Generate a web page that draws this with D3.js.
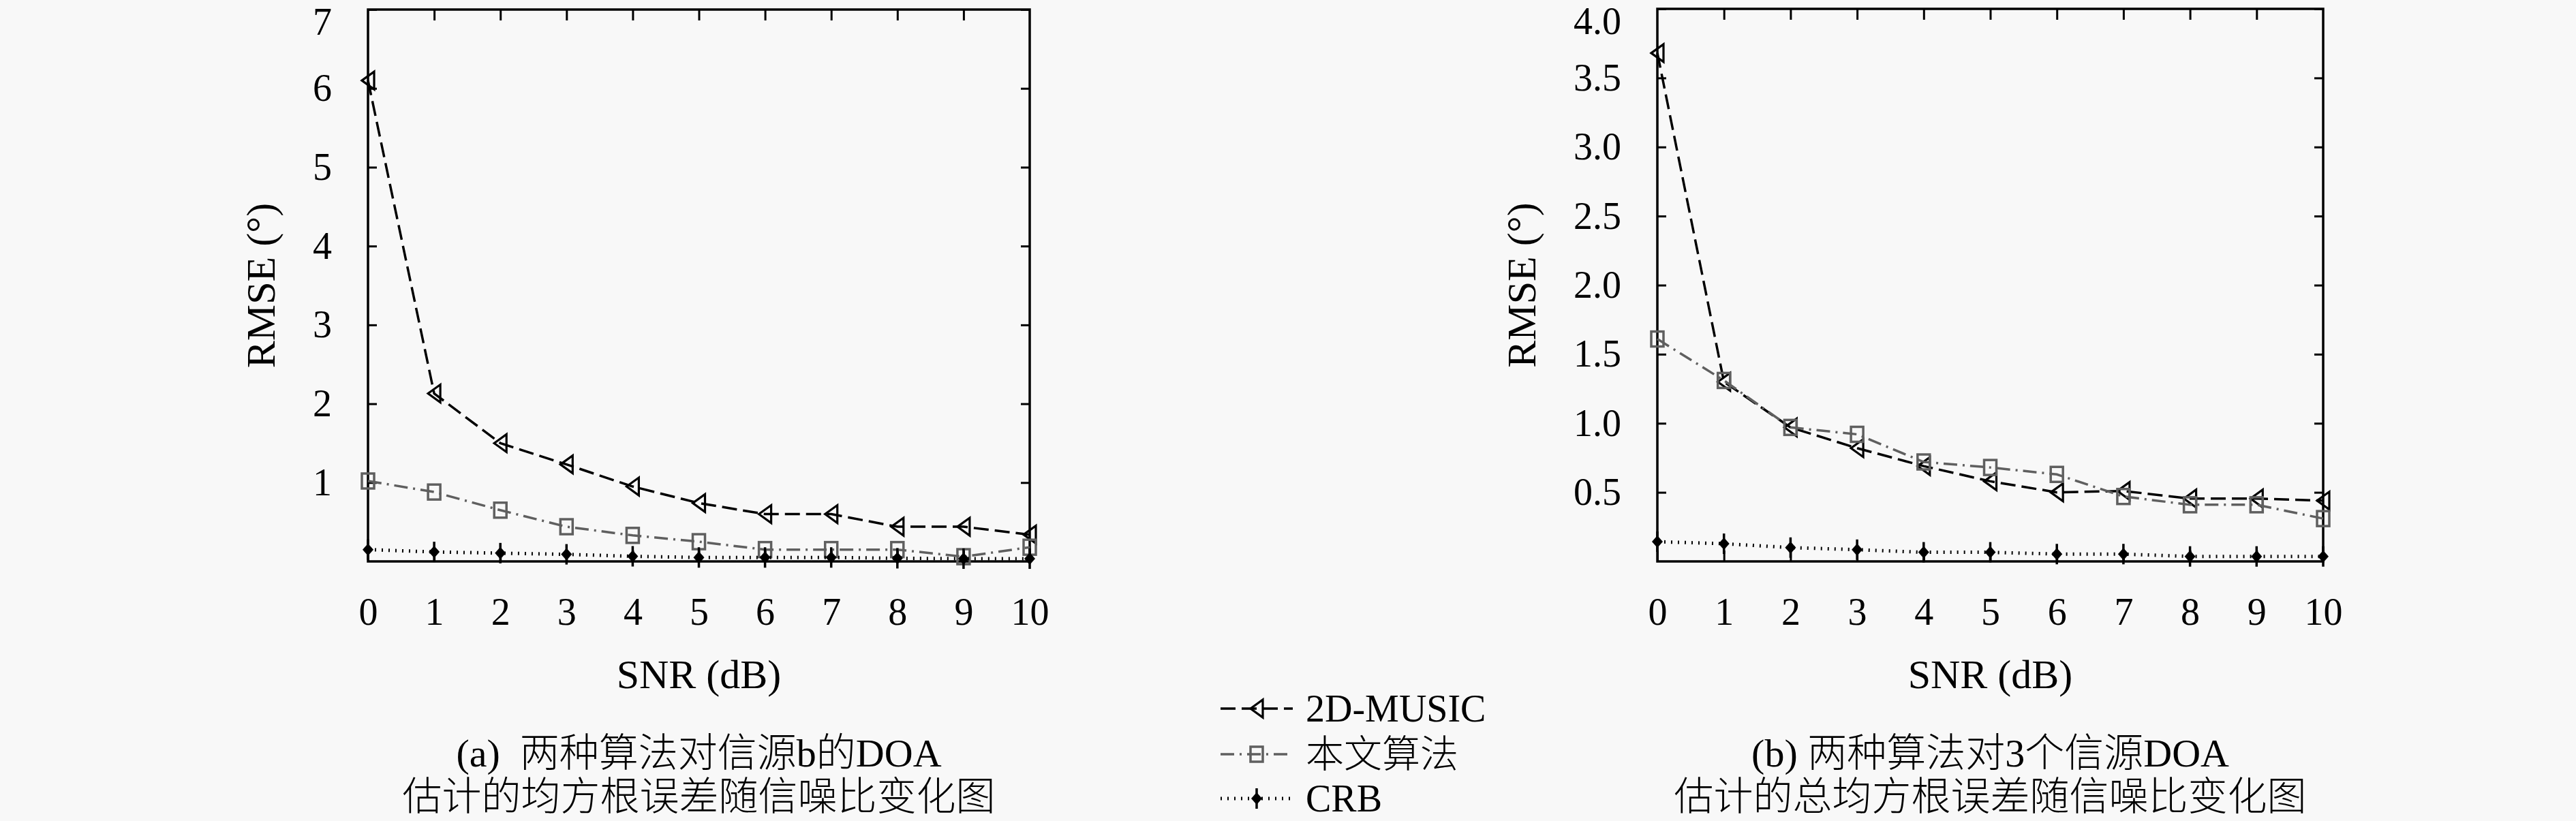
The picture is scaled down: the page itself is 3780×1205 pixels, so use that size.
<!DOCTYPE html>
<html>
<head>
<meta charset="utf-8">
<script src="https://cdn.jsdelivr.net/npm/d3@7"></script>
<style>
  html, body { margin: 0; padding: 0; background: #f8f8f8; }
  svg { display: block; }
</style>
</head>
<body>
<script>
// ---------------- DATA ----------------
const snr = [0, 1, 2, 3, 4, 5, 6, 7, 8, 9, 10];
const xTickLabels = ["0", "1", "2", "3", "4", "5", "6", "7", "8", "9", "10"];

// panel (a)
const musicA = [6.10, 2.13, 1.50, 1.23, 0.95, 0.74, 0.60, 0.60, 0.44, 0.44, 0.34];
const oursA  = [1.02, 0.88, 0.65, 0.44, 0.33, 0.25, 0.15, 0.15, 0.15, 0.06, 0.18];
const crbA   = [0.15, 0.12, 0.105, 0.09, 0.065, 0.05, 0.05, 0.05, 0.04, 0.035, 0.035];
const yTicksA = [1, 2, 3, 4, 5, 6, 7];
const yTickLabelsA = ["1", "2", "3", "4", "5", "6", "7"];

// panel (b)
const musicB = [3.68, 1.30, 0.97, 0.82, 0.69, 0.58, 0.50, 0.51, 0.455, 0.455, 0.44];
const oursB  = [1.61, 1.31, 0.97, 0.92, 0.72, 0.68, 0.63, 0.47, 0.41, 0.41, 0.31];
const crbB   = [0.143, 0.128, 0.10, 0.085, 0.066, 0.066, 0.053, 0.053, 0.036, 0.036, 0.036];
const yTicksB = [0.5, 1.0, 1.5, 2.0, 2.5, 3.0, 3.5, 4.0];
const yTickLabelsB = ["0.5", "1.0", "1.5", "2.0", "2.5", "3.0", "3.5", "4.0"];

const seriesNames = ["2D-MUSIC", "本文算法", "CRB"];
const xTitle = "SNR (dB)";
const yTitle = "RMSE (°)";
const captionA = ["(a)  两种算法对信源b的DOA", "估计的均方根误差随信噪比变化图"];
const captionB = ["(b) 两种算法对3个信源DOA", "估计的总均方根误差随信噪比变化图"];

// ---------------- STYLE ----------------
const W = 3780, H = 1205;
const serif = "'Liberation Serif', 'DejaVu Serif', serif";
const cjk = "'Noto Sans CJK SC', 'Noto Sans CJK JP', sans-serif";
const gray = "#5f5f5f";

const svg = d3.select("body").append("svg").attr("width", W).attr("height", H);
svg.append("rect").attr("width", W).attr("height", H).attr("fill", "#f8f8f8");

const styles = [
  { color: "#000", width: 3.5, dash: "22,9", marker: "tri" },
  { color: gray, width: 3.5, dash: "20,8,3,8", marker: "sq" },
  { color: "#000", width: 5, dash: "2,8", marker: "crb" }
];

function drawMarker(g, type, color) {
  if (type === "tri") {
    g.append("path").attr("d", "M-9,0 L9,-13 L9,13 Z")
      .attr("fill", "none").attr("stroke", color).attr("stroke-width", 3.2);
  } else if (type === "sq") {
    g.append("rect").attr("x", -9).attr("y", -11).attr("width", 18).attr("height", 22)
      .attr("fill", "none").attr("stroke", color).attr("stroke-width", 3.5);
  } else {
    g.append("line").attr("x1", 0).attr("x2", 0).attr("y1", -15).attr("y2", 15)
      .attr("stroke", color).attr("stroke-width", 3.5);
    g.append("path").attr("d", "M-8,0 L0,-9 L8,0 L0,9 Z").attr("fill", color);
  }
}

// mixed-script text: CJK runs in CJK font, the rest in the serif font
function mixedText(sel, str, size) {
  const parts = str.match(/[\u3400-\u9fff]+|[^\u3400-\u9fff]+/g);
  parts.forEach(p => {
    const isCjk = /[\u3400-\u9fff]/.test(p);
    sel.append("tspan").attr("font-family", isCjk ? cjk : serif)
      .attr("font-weight", isCjk ? 300 : 400)
      .attr("font-size", size).attr("xml:space", "preserve").text(p);
  });
}

function panel(cfg) {
  const x = d3.scaleLinear().domain([0, 10]).range([cfg.x0, cfg.x1]);
  const y = d3.scaleLinear().domain([0, cfg.ymax]).range([cfg.yb, cfg.yt]);
  const g = svg.append("g");

  const left = g.append("g").attr("transform", `translate(${cfg.x0},0)`)
    .call(d3.axisLeft(y).tickValues(cfg.yTicks).tickFormat((d, i) => cfg.yLabels[i])
      .tickSize(-13).tickPadding(53));
  const right = g.append("g").attr("transform", `translate(${cfg.x1},0)`)
    .call(d3.axisRight(y).tickValues(cfg.yTicks).tickFormat("").tickSize(-13));
  const bottom = g.append("g").attr("transform", `translate(0,${cfg.yb})`)
    .call(d3.axisBottom(x).tickValues(snr).tickFormat((d, i) => xTickLabels[i])
      .tickSize(-16).tickPadding(53));
  const top = g.append("g").attr("transform", `translate(0,${cfg.yt})`)
    .call(d3.axisTop(x).tickValues(snr.slice(1, 10)).tickFormat("").tickSize(-16));
  [left, right, bottom, top].forEach(a => {
    a.select(".domain").remove();
    a.selectAll(".tick line").attr("stroke", "#000").attr("stroke-width", 3);
    a.selectAll("text").attr("font-family", serif).attr("font-size", 56).attr("fill", "#000");
  });
  // the top label sits a little lower so it stays inside the picture
  left.selectAll(".tick text").attr("dy", d => d === cfg.ymax ? "0.66em" : "0.32em");

  g.append("rect").attr("x", cfg.x0).attr("y", cfg.yt)
    .attr("width", cfg.x1 - cfg.x0).attr("height", cfg.yb - cfg.yt)
    .attr("fill", "none").attr("stroke", "#000").attr("stroke-width", 3.5);

  cfg.series.forEach((vals, si) => {
    const st = styles[si];
    const line = d3.line().x((d, i) => x(snr[i])).y(d => y(d));
    g.append("path").datum(vals).attr("d", line)
      .attr("fill", "none").attr("stroke", st.color).attr("stroke-width", st.width)
      .attr("stroke-dasharray", st.dash);
    vals.forEach((v, i) => {
      const m = g.append("g").attr("transform", `translate(${x(snr[i])},${y(v)})`);
      drawMarker(m, st.marker, st.color);
    });
  });

  const cx = (cfg.x0 + cfg.x1) / 2;
  g.append("text").attr("x", cx).attr("y", 1010).attr("text-anchor", "middle")
    .attr("font-family", serif).attr("font-size", 60).text(xTitle);
  g.append("text").attr("transform", `translate(${cfg.ytx},${(cfg.yt + cfg.yb) / 2}) rotate(-90)`)
    .attr("text-anchor", "middle").attr("dy", "0.35em")
    .attr("font-family", serif).attr("font-size", 60).text(yTitle);

  cfg.caption.forEach((t, i) => {
    const tx = g.append("text").attr("x", cx).attr("y", i === 0 ? 1125 : 1189)
      .attr("text-anchor", "middle");
    mixedText(tx, t, 58);
  });
}

panel({
  x0: 540, x1: 1511, yt: 14, yb: 824, ymax: 7,
  yTicks: yTicksA, yLabels: yTickLabelsA, ytx: 382,
  series: [musicA, oursA, crbA], caption: captionA
});
panel({
  x0: 2432, x1: 3409, yt: 13, yb: 824, ymax: 4,
  yTicks: yTicksB, yLabels: yTickLabelsB, ytx: 2232,
  series: [musicB, oursB, crbB], caption: captionB
});

// ---------------- LEGEND ----------------
const legY = [1040, 1107, 1172];
const leg = svg.append("g");
seriesNames.forEach((name, i) => {
  const st = styles[i];
  leg.append("line").attr("x1", 1791).attr("x2", 1897).attr("y1", legY[i]).attr("y2", legY[i])
    .attr("stroke", st.color).attr("stroke-width", st.width).attr("stroke-dasharray", st.dash);
  const m = leg.append("g").attr("transform", `translate(1844,${legY[i]})`);
  drawMarker(m, st.marker, st.color);
  leg.append("text").attr("x", 1916).attr("y", legY[i]).attr("dy", "0.34em")
    .attr("font-family", i === 1 ? cjk : serif).attr("font-weight", i === 1 ? 300 : 400)
    .attr("font-size", i === 1 ? 56 : 56).text(name);
});
</script>
</body>
</html>
